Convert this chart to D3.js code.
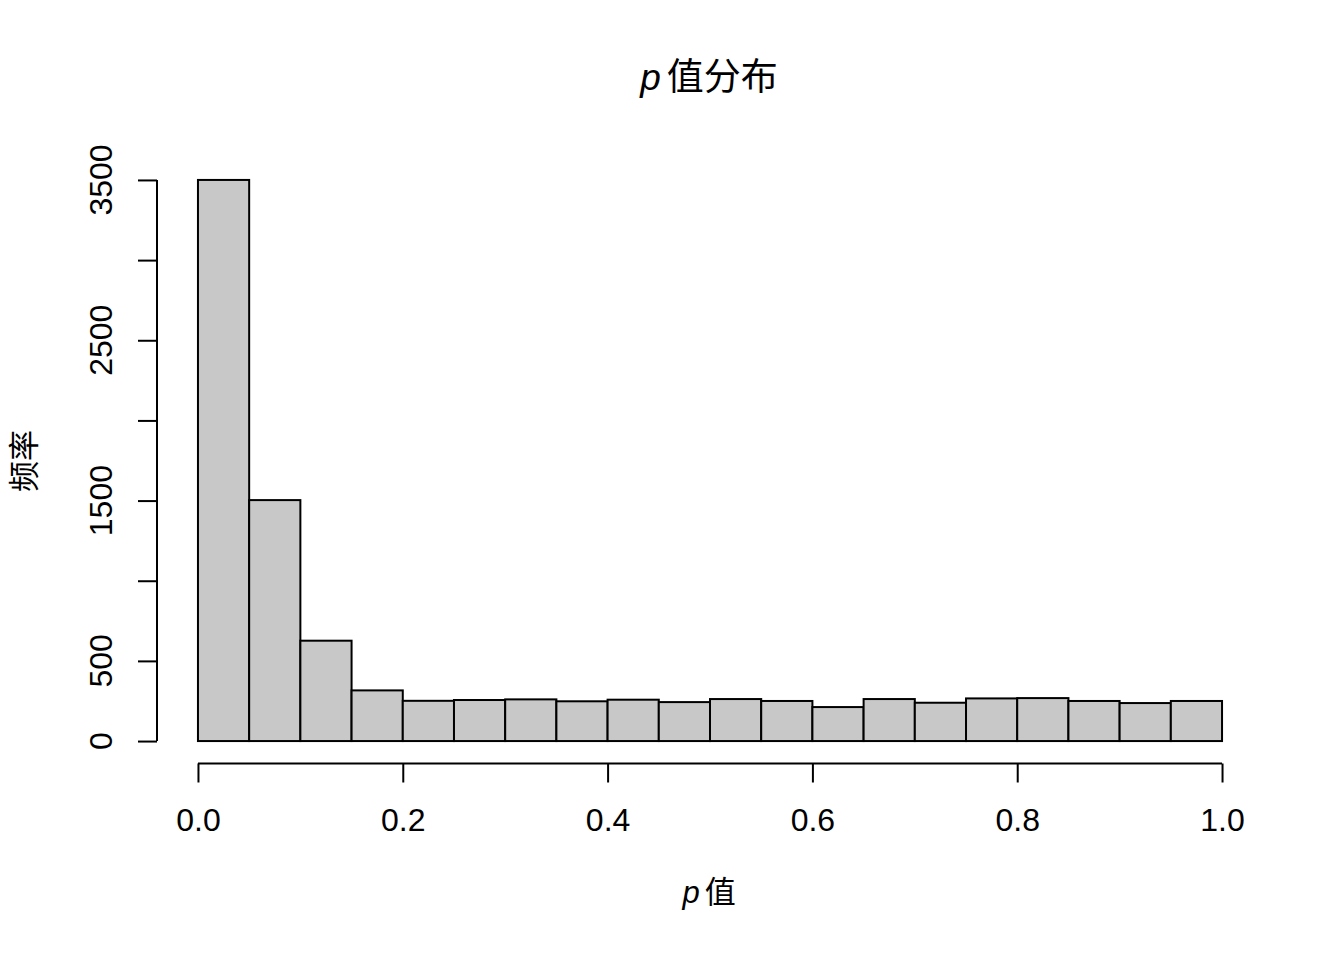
<!DOCTYPE html>
<html>
<head>
<meta charset="utf-8">
<script src="https://cdn.jsdelivr.net/npm/d3@7"></script>
<style>
  body { margin: 0; background: #fff; }
  text { font-family: "Liberation Sans", Arial, "Noto Sans CJK SC", sans-serif; fill: #000; }
</style>
</head>
<body>
<div id="chart"></div>
<script>
// histogram of p values, 20 bins of width 0.05
var breaks = [0, 0.05, 0.1, 0.15, 0.2, 0.25, 0.3, 0.35, 0.4, 0.45, 0.5,
              0.55, 0.6, 0.65, 0.7, 0.75, 0.8, 0.85, 0.9, 0.95, 1.0];
var counts = [3500, 1503, 626, 316, 251, 256, 260, 248, 258, 243,
              262, 250, 212, 262, 239, 266, 268, 250, 237, 250];
var xTicks = [0, 0.2, 0.4, 0.6, 0.8, 1.0];
var yTicks = [0, 500, 1000, 1500, 2000, 2500, 3000, 3500];
var yLabels = [0, 500, 1500, 2500, 3500];

var width = 1344, height = 960;

var svg = d3.select("#chart")
    .append("svg")
    .attr("width", width)
    .attr("height", height);

// R style: 4% padding on each side of the data range
var x = d3.scaleLinear().domain([-0.04, 1.04]).range([157, 1263]);
var y = d3.scaleLinear().domain([-140, 3640]).range([763.5, 157.5]);

var bins = counts.map(function(c, i) {
    return {x0: breaks[i], x1: breaks[i + 1], n: c};
});

// bars
svg.selectAll(".bar")
    .data(bins)
    .enter()
    .append("rect")
    .attr("class", "bar")
    .attr("x", function(d) { return x(d.x0); })
    .attr("y", function(d) { return y(d.n); })
    .attr("width", function(d) { return x(d.x1) - x(d.x0); })
    .attr("height", function(d) { return y(0) - y(d.n); })
    .attr("fill", "#c8c8c8")
    .attr("stroke", "#000")
    .attr("stroke-width", 2);

// x axis
var xAxis = d3.axisBottom(x)
    .tickValues(xTicks)
    .tickSize(19)
    .tickPadding(26)
    .tickFormat(d3.format(".1f"));

var gx = svg.append("g")
    .attr("transform", "translate(0,763.5)")
    .call(xAxis);
gx.select(".domain")
    .attr("d", "M" + x(0) + ",0H" + x(1));

// y axis
var yAxis = d3.axisLeft(y)
    .tickValues(yTicks)
    .tickSize(19)
    .tickFormat("");

var gy = svg.append("g")
    .attr("transform", "translate(157,0)")
    .call(yAxis);
gy.select(".domain")
    .attr("d", "M0," + y(0) + "V" + y(3500));

svg.selectAll(".domain, .tick line")
    .attr("stroke", "#000")
    .attr("stroke-width", 2);
gx.selectAll(".tick text")
    .style("font-size", "32px")
    .attr("fill", "#000");

// y tick labels, rotated like R
svg.selectAll(".ylab")
    .data(yLabels)
    .enter()
    .append("text")
    .attr("class", "ylab")
    .attr("transform", function(d) { return "translate(112," + y(d) + ") rotate(-90)"; })
    .attr("text-anchor", "middle")
    .style("font-size", "32px")
    .text(function(d) { return d; });

// title
var title = svg.append("text")
    .attr("x", 709)
    .attr("y", 90)
    .attr("text-anchor", "middle")
    .style("font-size", "37px");
title.append("tspan").style("font-style", "italic").text("p");
title.append("tspan").attr("dx", 6).text("值分布");

// x label
var xl = svg.append("text")
    .attr("x", 709)
    .attr("y", 903)
    .attr("text-anchor", "middle")
    .style("font-size", "31px");
xl.append("tspan").style("font-style", "italic").text("p");
xl.append("tspan").attr("dx", 5).text("值");

// y label
svg.append("text")
    .attr("transform", "translate(35,461) rotate(-90)")
    .attr("text-anchor", "middle")
    .style("font-size", "31px")
    .text("频率");
</script>
</body>
</html>
